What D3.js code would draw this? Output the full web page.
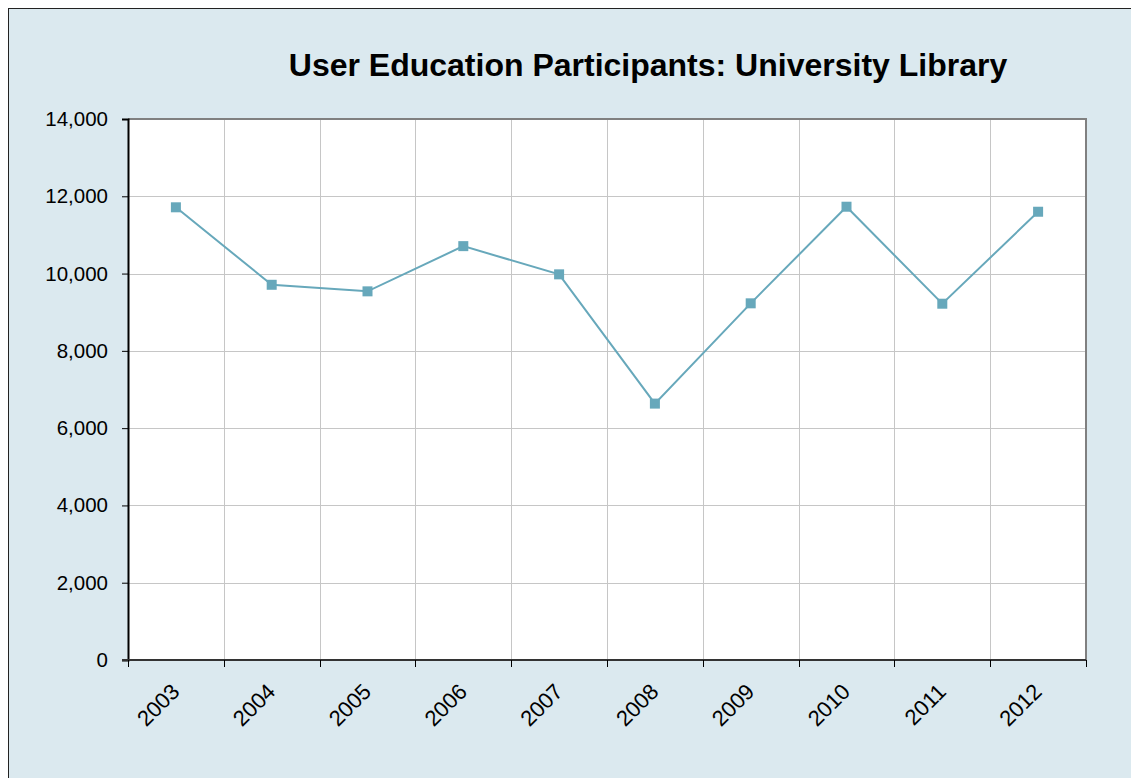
<!DOCTYPE html>
<html>
<head>
<meta charset="utf-8">
<script src="https://cdn.jsdelivr.net/npm/d3@7"></script>
<style>
  body { margin: 0; background: #fff; }
  svg { display: block; font-family: "Liberation Sans", Arial, sans-serif; }
</style>
</head>
<body>
<svg id="chart"></svg>
<script>
// chart data
const years = ["2003", "2004", "2005", "2006", "2007", "2008", "2009", "2010", "2011", "2012"];
const participants = [11715, 9710, 9540, 10710, 9980, 6635, 9230, 11730, 9220, 11600];
const yTicks = [0, 2000, 4000, 6000, 8000, 10000, 12000, 14000];
const chartTitle = "User Education Participants: University Library";

const width = 1131, height = 778;
const plot = {left: 128, top: 119, right: 1086, bottom: 660};

const svg = d3.select("#chart").attr("width", width).attr("height", height);

// outer frame
svg.append("rect")
  .attr("x", 8.5).attr("y", 8.5)
  .attr("width", width + 10).attr("height", height + 10)
  .attr("fill", "#dbe9ef").attr("stroke", "#222").attr("stroke-width", 1);

svg.append("text")
  .attr("x", 648).attr("y", 76)
  .attr("text-anchor", "middle")
  .style("font-size", "32px").style("font-weight", "bold")
  .text(chartTitle);

const x = d3.scaleBand().domain(years).range([plot.left, plot.right]);
const y = d3.scaleLinear().domain([0, 14000]).range([plot.bottom, plot.top]);

// plot background
svg.append("rect")
  .attr("x", plot.left).attr("y", plot.top)
  .attr("width", plot.right - plot.left).attr("height", plot.bottom - plot.top)
  .attr("fill", "#fff");

// grid lines
svg.append("g").selectAll("line").data(yTicks.slice(1))
  .join("line")
  .attr("x1", plot.left).attr("x2", plot.right)
  .attr("y1", d => Math.round(y(d)) + 0.5).attr("y2", d => Math.round(y(d)) + 0.5)
  .attr("stroke", "#c6c6c6");
svg.append("g").selectAll("line").data(years.slice(1))
  .join("line")
  .attr("x1", d => Math.round(x(d)) + 0.5).attr("x2", d => Math.round(x(d)) + 0.5)
  .attr("y1", plot.top).attr("y2", plot.bottom)
  .attr("stroke", "#c6c6c6");

// top and right border
svg.append("path")
  .attr("d", `M${plot.left},${plot.top}H${plot.right}V${plot.bottom}`)
  .attr("fill", "none").attr("stroke", "#808080").attr("stroke-width", 2);

// y axis
const yAxis = d3.axisLeft(y).tickValues(yTicks).tickSize(6).tickPadding(14)
  .tickFormat(d3.format(","));
const gy = svg.append("g").attr("transform", `translate(${plot.left},0)`).call(yAxis);
gy.select(".domain").attr("stroke", "#000").attr("stroke-width", 2);
gy.selectAll(".tick line").attr("stroke", "#000");
gy.selectAll("text").style("font-size", "20.5px").attr("fill", "#000");

// x axis: ticks at category boundaries
const bounds = years.map(d => x(d)).concat([plot.right]);
const gx = svg.append("g");
gx.append("line")
  .attr("x1", plot.left - 6).attr("x2", plot.right)
  .attr("y1", plot.bottom).attr("y2", plot.bottom)
  .attr("stroke", "#333").attr("stroke-width", 2);
gx.selectAll("line.tk").data(bounds).join("line").attr("class", "tk")
  .attr("x1", d => Math.round(d) + 0.5).attr("x2", d => Math.round(d) + 0.5)
  .attr("y1", plot.bottom).attr("y2", plot.bottom + 7)
  .attr("stroke", "#000");
gx.selectAll("text").data(years).join("text")
  .attr("transform", d => `translate(${x(d) + x.bandwidth() / 2 + 5},${plot.bottom + 33}) rotate(-45)`)
  .attr("text-anchor", "end")
  .style("font-size", "22px")
  .text(d => d);

// series line and markers
const color = "#67a8bb";
const line = d3.line()
  .x((d, i) => x(years[i]) + x.bandwidth() / 2)
  .y(d => y(d));
svg.append("path").datum(participants)
  .attr("d", line)
  .attr("fill", "none").attr("stroke", color).attr("stroke-width", 2);
svg.append("g").selectAll("rect").data(participants)
  .join("rect")
  .attr("x", (d, i) => x(years[i]) + x.bandwidth() / 2 - 5)
  .attr("y", d => y(d) - 5)
  .attr("width", 10).attr("height", 10)
  .attr("fill", color);
</script>
</body>
</html>
